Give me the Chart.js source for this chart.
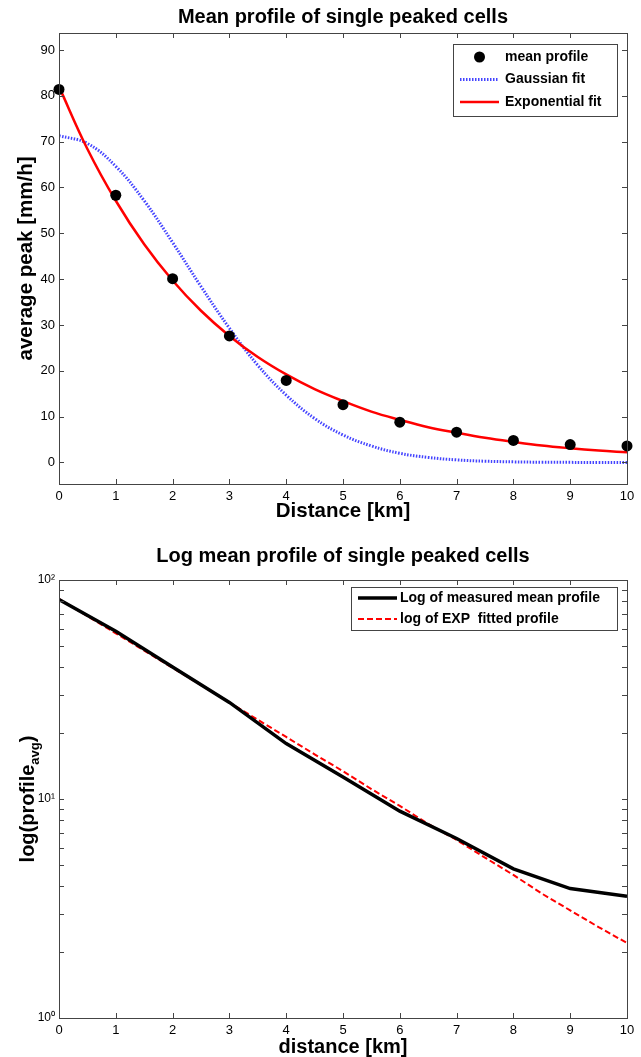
<!DOCTYPE html>
<html>
<head>
<meta charset="utf-8">
<script src="https://cdn.jsdelivr.net/npm/chart.js@4.4.0/dist/chart.umd.min.js"></script>
<style>
  body { margin: 0; background: #fff; width: 641px; height: 1057px; overflow: hidden; }
  .wrap { position: absolute; left: 0; width: 641px; }
</style>
</head>
<body>
<div class="wrap" style="top:0;height:526px"><canvas id="profileCanvas" width="641" height="526"></canvas></div>
<div class="wrap" style="top:526px;height:531px"><canvas id="logCanvas" width="641" height="531"></canvas></div>
<script>
// distances of the measured profile [km]
var distKm = [0, 1, 2, 3, 4, 5, 6, 7, 8, 9, 10];
var meanProfile = [81.4, 58.3, 40.1, 27.6, 17.9, 12.6, 8.8, 6.6, 4.8, 3.9, 3.6];

// fitted curves, every 0.5 km
var fitKm = [0, 0.5, 1, 1.5, 2, 2.5, 3, 3.5, 4, 4.5, 5, 5.5, 6, 6.5, 7, 7.5, 8, 8.5, 9, 9.5, 10];
var gaussFit = [71.3, 69.6, 64.6, 57.1, 48.0, 38.4, 29.3, 21.2, 14.7, 9.6, 6.0, 3.6, 2.0, 1.1, 0.56, 0.27, 0.13, 0.05, 0.02, 0.01, 0.0];
var expFit = [82.0, 68.4, 57.1, 47.6, 39.7, 33.1, 27.6, 23.0, 19.2, 16.0, 13.4, 11.1, 9.3, 7.7, 6.5, 5.4, 4.5, 3.7, 3.1, 2.6, 2.2];

// tick values
var xTicks = [0, 1, 2, 3, 4, 5, 6, 7, 8, 9, 10];
var yTicks = [0, 10, 20, 30, 40, 50, 60, 70, 80, 90];
var logTicks = [1, 2, 3, 4, 5, 6, 7, 8, 9, 10, 20, 30, 40, 50, 60, 70, 80, 90, 100];

var FONT = "'Liberation Sans', Arial, Helvetica, sans-serif";
var SUP = ['\u2070', '\u00b9', '\u00b2'];

function pts(xs, ys) {
    return xs.map(function (x, i) { return { x: x, y: ys[i] }; });
}

function fixTicks(list) {
    return function (scale) {
        scale.ticks = list.map(function (v) { return { value: v }; });
    };
}

// matlab style box with inward ticks on all four sides
var boxTicks = {
    id: 'boxTicks',
    afterDatasetsDraw: function (chart) {
        var ctx = chart.ctx, a = chart.chartArea;
        var sx = chart.scales.x, sy = chart.scales.y;
        var len = 5;
        ctx.save();
        ctx.strokeStyle = '#444';
        ctx.lineWidth = 1;
        ctx.beginPath();
        sx.ticks.forEach(function (t) {
            var px = Math.round(sx.getPixelForValue(t.value)) + 0.5;
            ctx.moveTo(px, a.bottom); ctx.lineTo(px, a.bottom - len);
            ctx.moveTo(px, a.top); ctx.lineTo(px, a.top + len);
        });
        sy.ticks.forEach(function (t) {
            var py = Math.round(sy.getPixelForValue(t.value)) + 0.5;
            ctx.moveTo(a.left, py); ctx.lineTo(a.left + len, py);
            ctx.moveTo(a.right, py); ctx.lineTo(a.right - len, py);
        });
        ctx.stroke();
        ctx.strokeRect(Math.round(a.left) + 0.5, Math.round(a.top) + 0.5,
            Math.round(a.right - a.left), Math.round(a.bottom - a.top));
        ctx.restore();
    }
};

// legend drawn inside the plot, with a frame
var boxLegend = {
    id: 'boxLegend',
    afterDraw: function (chart, args, o) {
        var ctx = chart.ctx;
        ctx.save();
        ctx.fillStyle = '#fff';
        ctx.fillRect(o.x, o.y, o.w, o.h);
        ctx.strokeStyle = '#444';
        ctx.lineWidth = 1;
        ctx.strokeRect(o.x + 0.5, o.y + 0.5, o.w, o.h);
        chart.data.datasets.forEach(function (ds, i) {
            var cy = o.y + o.row0 + i * o.rowGap;
            if (ds.showLine === false) {
                ctx.fillStyle = ds.backgroundColor;
                ctx.beginPath();
                ctx.arc(o.x + (o.sym0 + o.sym1) / 2, cy, ds.pointRadius, 0, Math.PI * 2);
                ctx.fill();
            } else {
                ctx.strokeStyle = ds.borderColor;
                ctx.lineWidth = ds.borderWidth;
                ctx.setLineDash(ds.borderDash || []);
                ctx.beginPath();
                ctx.moveTo(o.x + o.sym0, cy);
                ctx.lineTo(o.x + o.sym1, cy);
                ctx.stroke();
                ctx.setLineDash([]);
            }
            ctx.fillStyle = '#000';
            ctx.font = 'bold 14px ' + FONT;
            ctx.textBaseline = 'middle';
            ctx.textAlign = 'left';
            ctx.fillText(ds.label, o.x + o.textX, cy);
        });
        ctx.restore();
    }
};

// y title with a subscript
var subTitle = {
    id: 'subTitle',
    afterDraw: function (chart, args, o) {
        if (!o.text) return;
        var ctx = chart.ctx, a = chart.chartArea;
        var big = 'bold 20px ' + FONT, small = 'bold 13px ' + FONT;
        ctx.save();
        ctx.font = big;
        var w1 = ctx.measureText(o.text).width;
        var w3 = ctx.measureText(o.close).width;
        ctx.font = small;
        var w2 = ctx.measureText(o.sub).width;
        var total = w1 + w2 + w3;
        ctx.translate(o.x, (a.top + a.bottom) / 2);
        ctx.rotate(-Math.PI / 2);
        ctx.fillStyle = '#000';
        ctx.textBaseline = 'middle';
        ctx.textAlign = 'left';
        var sx = -total / 2;
        ctx.font = big;
        ctx.fillText(o.text, sx, 0);
        ctx.font = small;
        ctx.fillText(o.sub, sx + w1, 7);
        ctx.font = big;
        ctx.fillText(o.close, sx + w1 + w2, 0);
        ctx.restore();
    }
};

Chart.register(boxTicks, boxLegend, subTitle);

var tickFont = { family: FONT, size: 13 };
var axisTitleFont = { family: FONT, size: 20.5, weight: 'bold' };

//**** top chart: mean profile ****
var canvas1 = document.getElementById('profileCanvas');
new Chart(canvas1, {
    type: 'line',
    data: {
        datasets: [{
            label: 'mean profile',
            data: pts(distKm, meanProfile),
            showLine: false,
            pointRadius: 5.5,
            pointBackgroundColor: '#000',
            pointBorderWidth: 0,
            backgroundColor: '#000',
            borderColor: '#000',
            clip: false,
            order: 0
        }, {
            label: 'Gaussian fit',
            data: pts(fitKm, gaussFit),
            borderColor: 'rgba(35,35,255,0.85)',
            borderWidth: 3,
            borderDash: [1.5, 1.5],
            pointRadius: 0,
            tension: 0.4,
            order: 2
        }, {
            label: 'Exponential fit',
            data: pts(fitKm, expFit),
            borderColor: '#ff0000',
            borderWidth: 2.5,
            pointRadius: 0,
            tension: 0.4,
            order: 1
        }]
    },
    options: {
        responsive: false,
        animation: false,
        layout: { padding: { left: 0, right: 14, top: 0, bottom: 0 } },
        scales: {
            x: {
                type: 'linear', min: 0, max: 10,
                afterBuildTicks: fixTicks(xTicks),
                afterFit: function (s) { s.height = 42; },
                grid: { display: false, drawTicks: false },
                border: { display: false },
                ticks: { color: '#000', font: tickFont, padding: 5, autoSkip: false, maxRotation: 0 },
                title: { display: true, text: 'Distance [km]', color: '#000', font: axisTitleFont, padding: { top: 0, bottom: 2 } }
            },
            y: {
                type: 'linear', min: -4.7, max: 93.7,
                afterBuildTicks: fixTicks(yTicks),
                afterFit: function (s) { s.width = 59; },
                grid: { display: false, drawTicks: false },
                border: { display: false },
                ticks: { color: '#000', font: tickFont, padding: 4, autoSkip: false },
                title: { display: true, text: 'average peak [mm/h]', color: '#000', font: axisTitleFont, padding: { top: 14, bottom: 0 } }
            }
        },
        plugins: {
            legend: { display: false },
            tooltip: { enabled: false },
            title: {
                display: true, fullSize: false, text: 'Mean profile of single peaked cells', color: '#000',
                font: { family: FONT, size: 20, weight: 'bold' },
                padding: { top: 5, bottom: 4 }
            },
            boxLegend: { x: 453, y: 44, w: 164, h: 72, row0: 13, rowGap: 22.5, sym0: 7, sym1: 46, textX: 52 },
            subTitle: { text: '' }
        }
    }
});
//**** end top chart ****

//**** bottom chart: log profile ****
var canvas2 = document.getElementById('logCanvas');
new Chart(canvas2, {
    type: 'line',
    data: {
        datasets: [{
            label: 'Log of measured mean profile',
            data: pts(distKm, meanProfile),
            borderColor: '#000',
            borderWidth: 3.5,
            pointRadius: 0,
            tension: 0
        }, {
            label: 'log of EXP  fitted profile',
            data: pts(fitKm, expFit),
            borderColor: '#ff0000',
            borderWidth: 2,
            borderDash: [6, 3],
            pointRadius: 0,
            tension: 0
        }]
    },
    options: {
        responsive: false,
        animation: false,
        layout: { padding: { left: 0, right: 14, top: 0, bottom: 0 } },
        scales: {
            x: {
                type: 'linear', min: 0, max: 10,
                afterBuildTicks: fixTicks(xTicks),
                afterFit: function (s) { s.height = 39; },
                grid: { display: false, drawTicks: false },
                border: { display: false },
                ticks: { color: '#000', font: tickFont, padding: 5, autoSkip: false, maxRotation: 0 },
                title: {
                    display: true, text: 'distance [km]', color: '#000',
                    font: { family: FONT, size: 20, weight: 'bold', lineHeight: 1 },
                    padding: { top: 0, bottom: 0 }
                }
            },
            y: {
                type: 'logarithmic', min: 1, max: 100,
                afterBuildTicks: fixTicks(logTicks),
                afterFit: function (s) { s.width = 59; },
                grid: { display: false, drawTicks: false },
                border: { display: false },
                ticks: {
                    color: '#000', font: { family: FONT, size: 12 }, padding: 4, autoSkip: false,
                    callback: function (v) {
                        var e = Math.round(Math.log10(v));
                        return Math.abs(Math.log10(v) - e) < 1e-9 ? '10' + SUP[e] : '';
                    }
                },
                title: { display: false }
            }
        },
        plugins: {
            legend: { display: false },
            tooltip: { enabled: false },
            title: {
                display: true, fullSize: false, text: 'Log mean profile of single peaked cells', color: '#000',
                font: { family: FONT, size: 20, weight: 'bold' },
                padding: { top: 18, bottom: 12 }
            },
            boxLegend: { x: 351, y: 61, w: 266, h: 43, row0: 11, rowGap: 21, sym0: 7, sym1: 46, textX: 49 },
            subTitle: { text: 'log(profile', sub: 'avg', close: ')', x: 28 }
        }
    }
});
//**** end bottom chart ****
</script>
</body>
</html>
